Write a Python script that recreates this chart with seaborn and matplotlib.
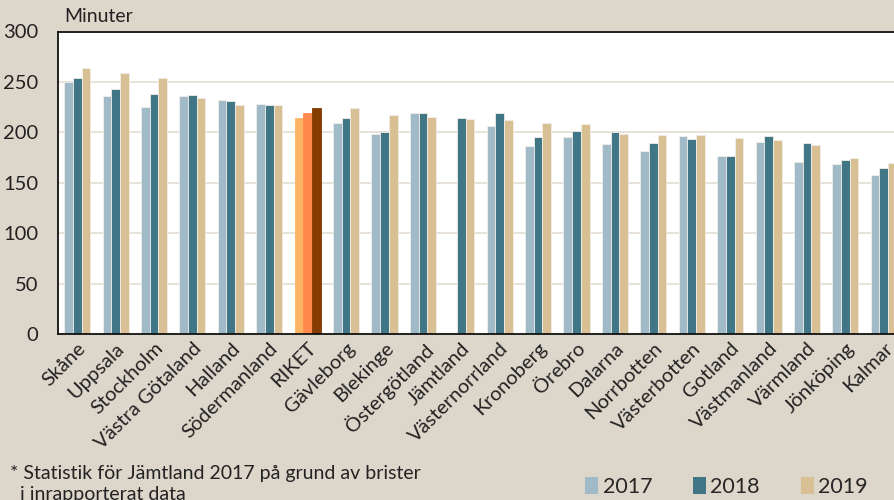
import numpy as np
import pandas as pd
import matplotlib
matplotlib.use("Agg")
import matplotlib.pyplot as plt
import seaborn as sns
from matplotlib.patches import Patch

regions = ["Skåne", "Uppsala", "Stockholm", "Västra Götaland", "Halland", "Södermanland",
           "RIKET", "Gävleborg", "Blekinge", "Östergötland", "Jämtland", "Västernorrland",
           "Kronoberg", "Örebro", "Dalarna", "Norrbotten", "Västerbotten", "Gotland",
           "Västmanland", "Värmland", "Jönköping", "Kalmar"]
v2017 = [250, 236, 225, 236, 232, 228, 214, 209, 198, 219, np.nan, 206,
         186, 195, 188, 181, 196, 177, 190, 171, 169, 158]
v2018 = [254, 243, 238, 237, 231, 227, 219, 214, 200, 219, 214, 219,
         195, 201, 200, 189, 193, 177, 196, 189, 173, 165]
v2019 = [264, 259, 254, 234, 227, 227, 224, 224, 217, 215, 213, 212,
         209, 208, 198, 197, 197, 194, 192, 187, 175, 170]
years = ["2017", "2018", "2019"]
colors = ["#A0BBC7", "#417687", "#D9BF94"]
riket_colors = ["#FDB462", "#FF8A4C", "#843C00"]

df = pd.DataFrame({
    "Län": regions * 3,
    "År": [y for y in years for _ in regions],
    "Minuter": v2017 + v2018 + v2019,
})

sns.set_theme(style="white")
plt.rcParams["font.family"] = ["Lato", "DejaVu Sans"]

bg = "#DDD6CB"
fig = plt.figure(figsize=(8.94, 5.0), dpi=100, facecolor=bg)
ax = fig.add_axes([58 / 894, 166 / 500, 845 / 894, 302.5 / 500])
ax.set_facecolor("white")

sns.barplot(data=df, x="Län", y="Minuter", hue="År", order=regions, hue_order=years,
            palette=colors, width=0.68, ax=ax, legend=False,
            edgecolor="#F2EEE8", linewidth=0.6, saturation=1)

# recolour RIKET group
idx = regions.index("RIKET")
riket_bars = [p for p in ax.patches
              if abs(p.get_x() + p.get_width() / 2 - idx) < 0.45 and p.get_height() > 0]
riket_bars.sort(key=lambda p: p.get_x())
for p, c in zip(riket_bars, riket_colors):
    p.set_facecolor(c)
    p.set_edgecolor(c)

ax.set_xlim(-0.5, len(regions) - 0.5)
ax.set_ylim(0, 300)
ax.set_yticks(range(0, 301, 50))
ax.yaxis.grid(True, color="#E3DDD3", linewidth=1.2)
ax.set_axisbelow(True)
ax.set_xlabel("")
ax.set_ylabel("")
ax.tick_params(axis="y", length=0, labelsize=14.5, pad=14, labelcolor="#222222")
ax.tick_params(axis="x", which="major", length=0, labelsize=14.5, pad=4, labelcolor="#222222")
ax.set_xticks(np.arange(len(regions)) + 0.5, minor=True)
ax.tick_params(axis="x", which="minor", direction="in", length=4, width=1, color="#333333")
for lbl in ax.get_xticklabels():
    lbl.set_rotation(45)
    lbl.set_ha("right")
    lbl.set_rotation_mode("anchor")
for s in ["left", "bottom", "top"]:
    ax.spines[s].set_color("#111111")
    ax.spines[s].set_linewidth(1.3)
ax.spines["right"].set_visible(False)

fig.text(64 / 894, 1 - 17 / 500, "Minuter", fontsize=14, color="#222222", va="center")

fig.text(10 / 894, 1 - 484 / 500, "* Statistik för Jämtland 2017 på grund av brister\n  i inrapporterat data",
         fontsize=14, va="center", ha="left", color="#222222", linespacing=1.3)

handles = [Patch(facecolor=c, edgecolor="none") for c in colors]
fig.legend(handles, years, loc="center left", bbox_to_anchor=(566 / 894, 1 - 487 / 500),
           ncol=3, frameon=False, handlelength=0.6, handleheight=0.8, handletextpad=0.2,
           columnspacing=1.9, prop={"size": 15.5})

fig.savefig("out.png", dpi=100, facecolor=bg)
